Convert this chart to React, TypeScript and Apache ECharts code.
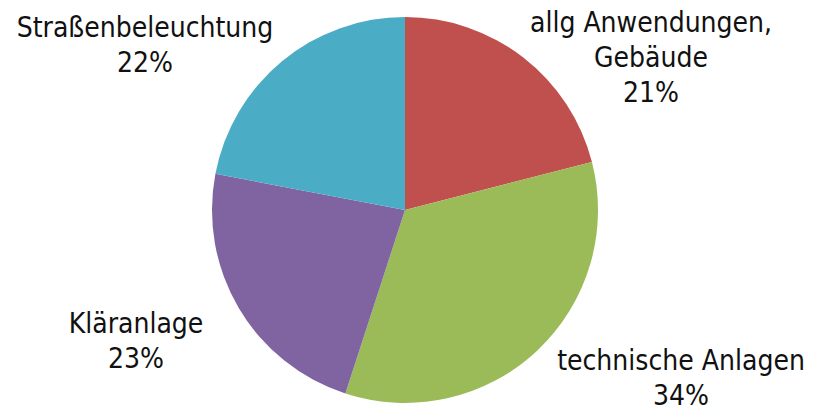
import React, { useEffect, useRef } from "react";
import * as echarts from "echarts";

const categories = ["allg Anwendungen,\nGebäude", "technische Anlagen", "Kläranlage", "Straßenbeleuchtung"];
const values = [21, 34, 23, 22];
const colors = ["#C0504D", "#9BBB59", "#8064A2", "#4BACC6"];
const labelPos = [
  [651, 57],
  [681, 378],
  [136, 341],
  [145, 45],
];

export default function App() {
  const ref = useRef<HTMLDivElement>(null);
  useEffect(() => {
    const chart = echarts.init(ref.current!, null, { renderer: "svg" });
    chart.setOption({
      animation: false,
      series: [
        {
          type: "pie",
          center: [405, 210],
          radius: 193,
          startAngle: 90,
          clockwise: true,
          label: {
            show: true,
            formatter: "{b}\n{d}%",
            fontFamily: "DejaVu Sans Condensed",
            fontSize: 28,
            lineHeight: 35,
            color: "#111",
            align: "center",
            overflow: "none",
            width: 400,
          },
          labelLine: { show: false },
          labelLayout: (p: any) => ({
            x: labelPos[p.dataIndex][0],
            y: labelPos[p.dataIndex][1],
            align: "center",
            verticalAlign: "middle",
            hideOverlap: false,
            moveOverlap: undefined,
          }),
          avoidLabelOverlap: false,
          itemStyle: { borderWidth: 0 },
          emphasis: { disabled: true },
          data: categories.map((c, i) => ({ name: c, value: values[i], itemStyle: { color: colors[i] } })),
        },
      ],
    });
    return () => chart.dispose();
  }, []);
  return <div ref={ref} style={{ width: 814, height: 411, position: "absolute", left: 0, top: 0 }} />;
}
